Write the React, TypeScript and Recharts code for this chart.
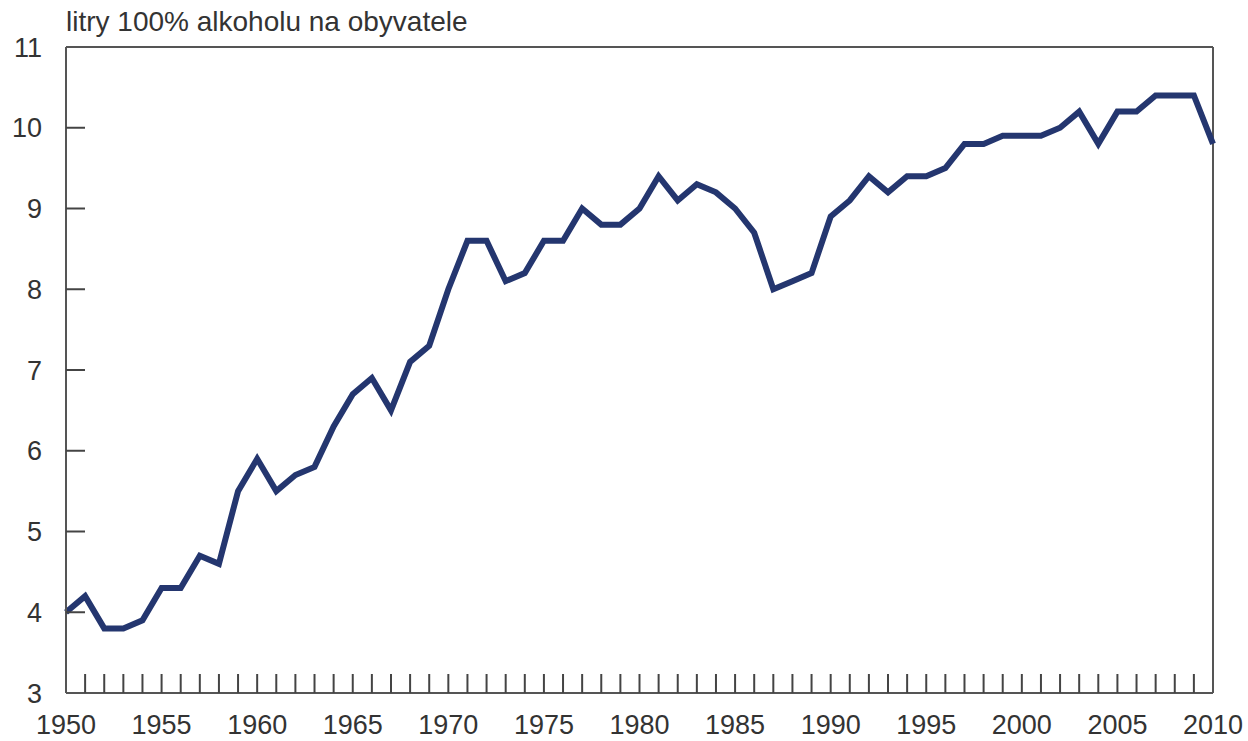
import { LineChart, Line, XAxis, YAxis, ReferenceLine } from "recharts";

const years = [
  1950, 1951, 1952, 1953, 1954, 1955, 1956, 1957, 1958, 1959,
  1960, 1961, 1962, 1963, 1964, 1965, 1966, 1967, 1968, 1969,
  1970, 1971, 1972, 1973, 1974, 1975, 1976, 1977, 1978, 1979,
  1980, 1981, 1982, 1983, 1984, 1985, 1986, 1987, 1988, 1989,
  1990, 1991, 1992, 1993, 1994, 1995, 1996, 1997, 1998, 1999,
  2000, 2001, 2002, 2003, 2004, 2005, 2006, 2007, 2008, 2009,
  2010,
];

// litry 100% alkoholu na obyvatele
const litres = [
  4.0, 4.2, 3.8, 3.8, 3.9, 4.3, 4.3, 4.7, 4.6, 5.5,
  5.9, 5.5, 5.7, 5.8, 6.3, 6.7, 6.9, 6.5, 7.1, 7.3,
  8.0, 8.6, 8.6, 8.1, 8.2, 8.6, 8.6, 9.0, 8.8, 8.8,
  9.0, 9.4, 9.1, 9.3, 9.2, 9.0, 8.7, 8.0, 8.1, 8.2,
  8.9, 9.1, 9.4, 9.2, 9.4, 9.4, 9.5, 9.8, 9.8, 9.9,
  9.9, 9.9, 10.0, 10.2, 9.8, 10.2, 10.2, 10.4, 10.4, 10.4,
  9.8,
];

const yTicks = [3, 4, 5, 6, 7, 8, 9, 10, 11];

const data = years.map((year, i) => ({ year, value: litres[i] }));

const FONT = "'Liberation Sans', Arial, sans-serif";
const TEXT = "#333";
const AXIS = "#555";

function XTick(props: any) {
  const { x, y, payload } = props;
  const v = payload.value;
  return (
    <g>
      {v > 1950 && v < 2010 && (
        <line x1={x} x2={x} y1={y} y2={y - 19} stroke="#444" strokeWidth={2} />
      )}
      {v % 5 === 0 && (
        <text x={x} y={y + 41} textAnchor="middle" fill={TEXT} fontSize={27} fontFamily={FONT}>
          {v}
        </text>
      )}
    </g>
  );
}

function YTick(props: any) {
  const { x, y, payload } = props;
  const v = payload.value;
  return (
    <g>
      {v > 3 && v < 11 && (
        <line x1={x} x2={x + 19} y1={y} y2={y} stroke="#444" strokeWidth={2} />
      )}
      <text x={x - 24} y={y} dy="0.36em" textAnchor="end" fill={TEXT} fontSize={27} fontFamily={FONT}>
        {v}
      </text>
    </g>
  );
}

export default function App() {
  return (
    <div style={{ position: "relative", width: 1248, height: 741, background: "#fff" }}>
      <style>{"html,body{margin:0;padding:0;overflow:hidden;}"}</style>
      <div
        style={{
          position: "absolute",
          left: 66,
          top: 8,
          fontFamily: FONT,
          fontSize: 28,
          lineHeight: 1,
          color: TEXT,
          whiteSpace: "nowrap",
        }}
      >
        litry 100% alkoholu na obyvatele
      </div>
      <LineChart
        width={1248}
        height={741}
        data={data}
        margin={{ top: 47, right: 35, left: 0, bottom: 0 }}
      >
        <XAxis
          dataKey="year"
          type="number"
          domain={[1950, 2010]}
          ticks={years}
          interval={0}
          height={48}
          tickSize={0}
          tickMargin={0}
          tickLine={false}
          axisLine={{ stroke: AXIS, strokeWidth: 2 }}
          tick={<XTick />}
        />
        <YAxis
          type="number"
          domain={[3, 11]}
          ticks={yTicks}
          interval={0}
          width={66}
          tickSize={0}
          tickMargin={0}
          tickLine={false}
          axisLine={{ stroke: AXIS, strokeWidth: 2 }}
          tick={<YTick />}
        />
        <ReferenceLine y={11} stroke={AXIS} strokeWidth={2} />
        <ReferenceLine x={2010} stroke={AXIS} strokeWidth={2} />
        <Line
          type="linear"
          dataKey="value"
          stroke="#24366f"
          strokeWidth={6}
          dot={false}
          isAnimationActive={false}
        />
      </LineChart>
    </div>
  );
}
